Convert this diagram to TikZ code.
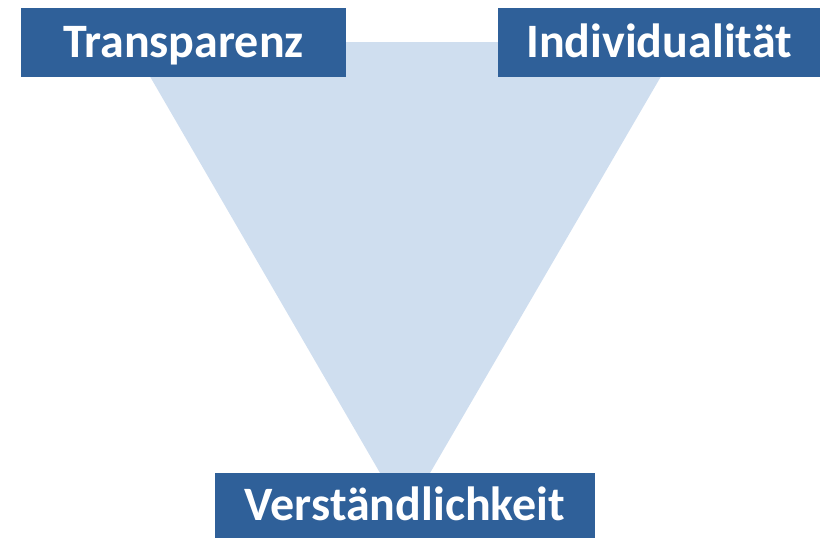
\documentclass[tikz,border=0pt]{standalone}
\usepackage{fontspec}
\setmainfont{Carlito}
\definecolor{boxblue}{HTML}{2F6099}
\definecolor{trifill}{HTML}{CFDEEF}
\begin{document}
\begin{tikzpicture}[x=1pt,y=-1pt,
  label box/.style={fill=boxblue,text=white,inner sep=0pt,font=\fontsize{48}{54}\selectfont\bfseries,anchor=center,text height=30pt,text depth=0pt}]
\useasboundingbox (0,0) rectangle (823,538);
\fill[trifill] (130,42) -- (681,42) -- (405,516) -- cycle;
\node[label box,minimum width=325pt,minimum height=69pt] (t) at (183.5,42.5) {Transparenz};
\node[label box,minimum width=322pt,minimum height=69pt] (i) at (659,42.5) {Individualität};
\node[label box,minimum width=380pt,minimum height=65pt] (v) at (405,505.5) {Verständlichkeit};
\end{tikzpicture}
\end{document}
